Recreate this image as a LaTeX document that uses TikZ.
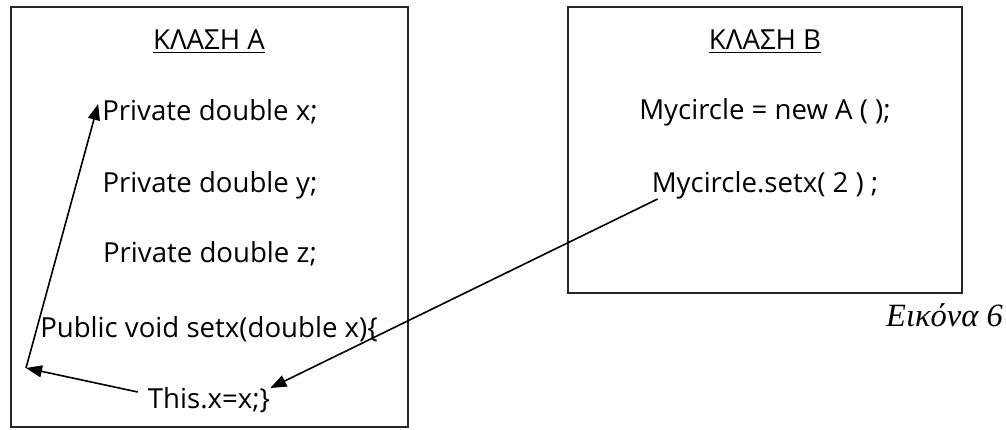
\documentclass[tikz,border=0pt]{standalone}
\usepackage{fontspec}
\setmainfont{Open Sans}
\newfontfamily\capfont{Liberation Serif}
\usetikzlibrary{arrows.meta}
\begin{document}
\begin{tikzpicture}[x=1pt,y=-1pt,
  classbox/.style={draw=black!85,line width=1.6pt,inner sep=0pt},
  code/.style={anchor=base,inner sep=0pt,font=\fontsize{27.6}{32}\selectfont},
  link/.style={line width=1.6pt,-{Triangle[length=16pt,width=12pt]}}]
\useasboundingbox (0,0) rectangle (1006,430);

% the two class frames
\node[classbox,minimum width=397pt,minimum height=420pt] (classA) at (209.5,217) {};
\node[classbox,minimum width=394pt,minimum height=286pt] (classB) at (765,150) {};

% class A
\node[code] (titA) at (209,50) {ΚΛΑΣΗ Α};
\draw[line width=1.2pt] ([yshift=-2.5pt]titA.base west) -- ([yshift=-2.5pt]titA.base east);
\node[code] (px) at (210,121) {Private double x;};
\node[code] (py) at (210,193) {Private double y;};
\node[code] (pz) at (210,263) {Private double z;};
\node[code] (setx) at (209,337) {Public void setx(double x)\{};
\node[code] (thisx) at (209,408) {This.x=x;\}};

% class B
\node[code] (titB) at (765,50) {ΚΛΑΣΗ Β};
\draw[line width=1.2pt] ([yshift=-2.5pt]titB.base west) -- ([yshift=-2.5pt]titB.base east);
\node[code] (newA) at (765,120) {Mycircle = new A ( );};
\node[code] (call) at (765,193) {Mycircle.setx( 2 ) ;};

% caption
\node[anchor=base east,inner sep=0pt,font=\capfont\itshape\fontsize{32.5}{38}\selectfont] (cap) at (1003,326) {Εικόνα 6};

% references
\coordinate (bend) at (26,368);
\draw[link] ([xshift=-10pt,yshift=16pt]thisx.base west) -- (bend);
\draw[link] (bend) -- ([xshift=-4pt,yshift=17pt]px.base west);
\draw[link] ([xshift=6pt,yshift=-6pt]call.base west) -- ([yshift=20pt]thisx.base east);
\end{tikzpicture}
\end{document}
